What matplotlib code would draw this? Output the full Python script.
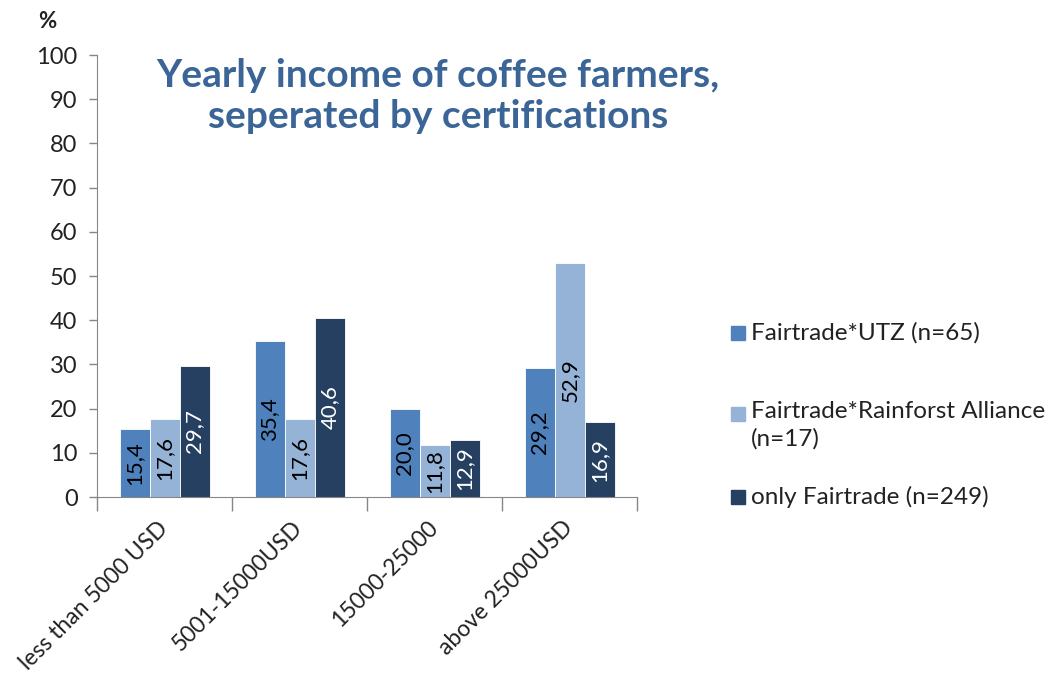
import numpy as np
import matplotlib
matplotlib.use("Agg")
import matplotlib.pyplot as plt
from matplotlib.patches import Rectangle

plt.rcParams['font.family'] = ['Lato', 'DejaVu Sans']

# data
categories = ["less than 5000 USD", "5001-15000USD", "15000-25000", "above 25000USD"]
utz = [15.4, 35.4, 20.0, 29.2]
rainforest = [17.6, 17.6, 11.8, 52.9]
only_ft = [29.7, 40.6, 12.9, 16.9]
series_names = ["Fairtrade*UTZ (n=65)", "Fairtrade*Rainforst Alliance\n(n=17)", "only Fairtrade (n=249)"]
colors = ["#4F81BD", "#95B3D7", "#254061"]
label_colors = ["black", "black", "white"]

fig = plt.figure(figsize=(10.57, 6.80), dpi=100)
ax = fig.add_axes([0.0918, 0.2691, 0.5109, 0.65])

x = np.arange(len(categories))
w = 1 / 4.5
for i, (vals, c, lc) in enumerate(zip([utz, rainforest, only_ft], colors, label_colors)):
    bars = ax.bar(x + (i - 1) * w, vals, w, color=c, edgecolor='white', linewidth=0.6)
    for b, v in zip(bars, vals):
        ax.text(b.get_x() + b.get_width() / 2, v / 2, f"{v:.1f}".replace('.', ','),
                rotation=90, ha='center', va='center', fontsize=16, color=lc)

ax.set_xlim(-0.5, len(categories) - 0.5)
ax.set_ylim(0, 100)
ax.set_yticks(np.arange(0, 101, 10))
ax.set_xticks(np.arange(-0.5, len(categories)), minor=False)
ax.set_xticklabels([])
ax.set_xticks(x, minor=True)
ax.set_xticklabels(categories, minor=True, rotation=45, ha='right', va='center',
                   rotation_mode='anchor', fontsize=16.5, color='#222222')
ax.tick_params(axis='x', which='minor', length=0, pad=20)
ax.tick_params(axis='x', which='major', length=10, color='#868686', width=1)
ax.tick_params(axis='y', length=6, color='#868686', width=1, labelsize=17, labelcolor='#222222', pad=8)
for s in ['top', 'right']:
    ax.spines[s].set_visible(False)
for s in ['left', 'bottom']:
    ax.spines[s].set_color('#868686')

fig.text(47 / 1057, 1 - 22 / 680, "%", fontsize=16, ha='center', va='center', fontweight='bold', color='#222222')

fig.text(438 / 1057, 1 - 96 / 680, "Yearly income of coffee farmers,\nseperated by certifications",
         ha='center', va='center', fontsize=28, fontweight='bold', color='#3A6596', linespacing=1.2)

# legend
leg_y = [333, 414, 497]
for y, c, name in zip(leg_y, colors, series_names):
    fig.add_artist(Rectangle((731 / 1057, 1 - (y + 7) / 680), 14 / 1057, 14 / 680,
                             transform=fig.transFigure, color=c))
    if '\n' in name:
        fig.text(751 / 1057, 1 - (y - 13) / 680, name, ha='left', va='top',
                 fontsize=17.5, color='#222222', linespacing=1.35)
    else:
        fig.text(751 / 1057, 1 - y / 680, name, ha='left', va='center',
                 fontsize=17.5, color='#222222')

fig.savefig("out.png", dpi=100)
